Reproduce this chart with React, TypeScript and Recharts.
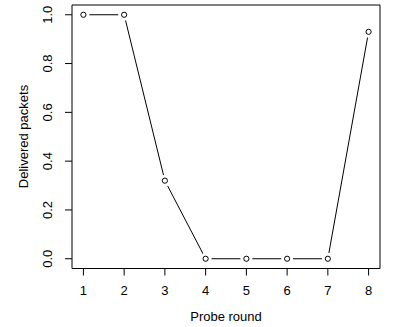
import { LineChart, Line, XAxis, YAxis, ReferenceArea } from "recharts";

const rounds = [1, 2, 3, 4, 5, 6, 7, 8];
const delivered = [1.0, 1.0, 0.32, 0.0, 0.0, 0.0, 0.0, 0.93];
const xTicks = [1, 2, 3, 4, 5, 6, 7, 8];
const yTicks = [0, 0.2, 0.4, 0.6, 0.8, 1.0];

const data = rounds.map((r, i) => ({ round: r, value: delivered[i] }));

const font = "'Liberation Sans', Arial, Helvetica, sans-serif";

// R type="b": open circle with a gap in the line around it
function OpenPoint(props: any) {
  const { cx, cy } = props;
  if (cx == null || cy == null) return null;
  return (
    <g>
      <circle cx={cx} cy={cy} r={6} fill="#fff" stroke="none" />
      <circle cx={cx} cy={cy} r={2.6} fill="#fff" stroke="#000" strokeWidth={1} />
    </g>
  );
}

function YTick(props: any) {
  const { y, payload } = props;
  const x = 52.5;
  return (
    <text x={x} y={y} transform={`rotate(-90, ${x}, ${y})`} textAnchor="middle" fontSize={13} fill="#000" fontFamily={font}>
      {Number(payload.value).toFixed(1)}
    </text>
  );
}

function XTick(props: any) {
  const { x, payload } = props;
  return (
    <text x={x} y={294.5} textAnchor="middle" fontSize={13} fill="#000" fontFamily={font}>
      {payload.value}
    </text>
  );
}

export default function App() {
  return (
    <div style={{ position: "absolute", left: 0, top: 0, background: "#fff" }}>
      <LineChart width={393} height={327} data={data} margin={{ top: 5, right: 13, bottom: 0, left: 0 }}>
        <XAxis
          dataKey="round"
          type="number"
          domain={[0.72, 8.28]}
          ticks={xTicks}
          axisLine={false}
          tickLine={{ stroke: "#000" }}
          tickSize={7}
          tick={<XTick />}
          height={58.5}
        />
        <YAxis
          type="number"
          domain={[-0.04, 1.04]}
          ticks={yTicks}
          axisLine={false}
          tickLine={{ stroke: "#000" }}
          tickSize={7}
          tick={<YTick />}
          width={72}
        />
        <ReferenceArea x1={0.72} x2={8.28} y1={-0.04} y2={1.04} fill="none" stroke="#000" strokeWidth={1} fillOpacity={0} />
        <Line
          dataKey="value"
          stroke="#000"
          strokeWidth={1}
          dot={<OpenPoint />}
          activeDot={false}
          isAnimationActive={false}
        />
        <text x={226} y={320.5} textAnchor="middle" fontSize={13} fill="#000" fontFamily={font}>
          Probe round
        </text>
        <text x={28} y={136.5} transform="rotate(-90, 28, 136.5)" textAnchor="middle" fontSize={13} fill="#000" fontFamily={font}>
          Delivered packets
        </text>
      </LineChart>
    </div>
  );
}
